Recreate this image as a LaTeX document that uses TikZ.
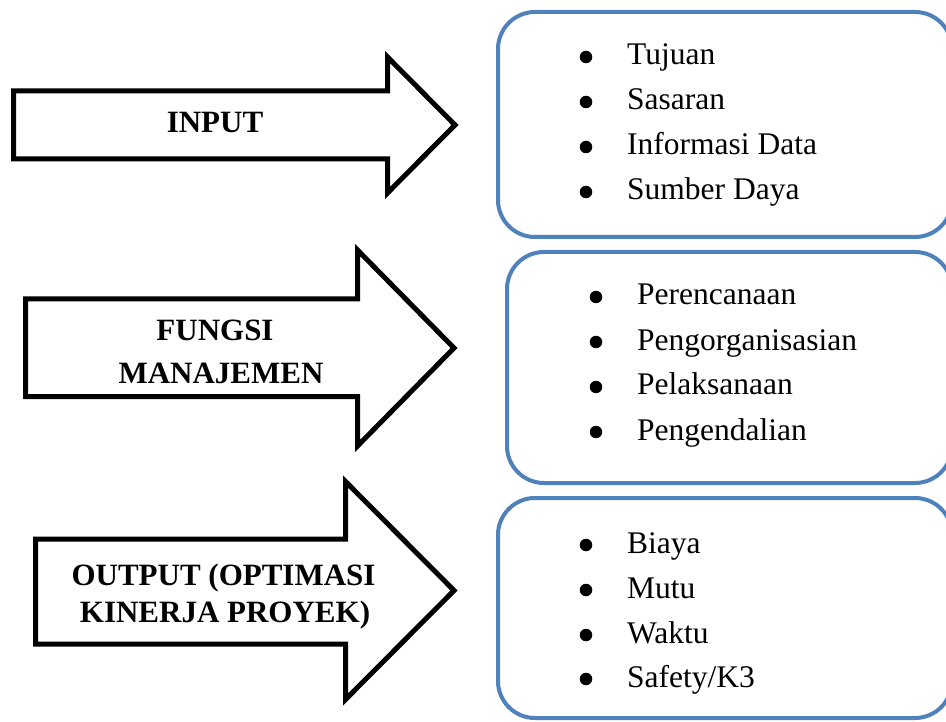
\documentclass[tikz,border=0pt]{standalone}
\usepackage{fontspec}
\setmainfont{Liberation Serif}
\definecolor{boxblue}{HTML}{4F81BD}
\tikzset{
  bigarrow/.style={draw=black, line width=5pt, fill=white, line join=miter},
  listbox/.style={draw=boxblue, line width=4pt, rounded corners=37pt, fill=white},
  label/.style={font=\fontsize{31}{36}\selectfont\bfseries, anchor=base, inner sep=0pt},
  item/.style={font=\fontsize{31.5}{38}\selectfont, anchor=base west, inner sep=0pt},
  bul/.style={circle, fill=black, inner sep=0pt, minimum size=12.5pt}
}
\begin{document}
\begin{tikzpicture}[x=1pt,y=-1pt]
\useasboundingbox (0,0) rectangle (946,722);
% arrows
\draw[bigarrow] (13.5,91) -- (387.5,91) -- (387.5,57) -- (455,125) -- (387.5,193) -- (387.5,159) -- (13.5,159) -- cycle;
\draw[bigarrow] (25.5,299) -- (357.5,299) -- (357.5,250) -- (454,348) -- (357.5,446) -- (357.5,396.5) -- (25.5,396.5) -- cycle;
\draw[bigarrow] (35.5,539) -- (345.5,539) -- (345.5,481.5) -- (454,590.5) -- (345.5,699.5) -- (345.5,644) -- (35.5,644) -- cycle;
% arrow labels
\node[label] (in) at (215,133) {INPUT};
\node[label] (fm1) at (215,341) {FUNGSI};
\node[label] (fm2) at (221,383) {MANAJEMEN};
\node[label] (out1) at (223.5,585) {OUTPUT (OPTIMASI};
\node[label] (out2) at (225,622) {KINERJA PROYEK)};
% boxes
\draw[listbox] (498,12) rectangle (952,237);
\draw[listbox] (507,252) rectangle (952,483);
\draw[listbox] (498,498) rectangle (952,718);
% box 1 items
\node[bul] (b11) at (586,57) {};
\node[item] (t11) at (627,65) {Tujuan};
\node[bul] (b12) at (586,102) {};
\node[item] (t12) at (627,110) {Sasaran};
\node[bul] (b13) at (586,147) {};
\node[item] (t13) at (627,155) {Informasi Data};
\node[bul] (b14) at (586,192) {};
\node[item] (t14) at (627,200) {Sumber Daya};
% box 2 items
\node[bul] (b21) at (596,297) {};
\node[item] (t21) at (637,305) {Perencanaan};
\node[bul] (b22) at (596,342) {};
\node[item] (t22) at (637,350) {Pengorganisasian};
\node[bul] (b23) at (596,387) {};
\node[item] (t23) at (637,395) {Pelaksanaan};
\node[bul] (b24) at (596,432) {};
\node[item] (t24) at (637,440) {Pengendalian};
% box 3 items
\node[bul] (b31) at (586,545) {};
\node[item] (t31) at (627,553) {Biaya};
\node[bul] (b32) at (586,590) {};
\node[item] (t32) at (627,598) {Mutu};
\node[bul] (b33) at (586,635) {};
\node[item] (t33) at (627,643) {Waktu};
\node[bul] (b34) at (586,679) {};
\node[item] (t34) at (627,687) {Safety/K3};
\end{tikzpicture}
\end{document}
